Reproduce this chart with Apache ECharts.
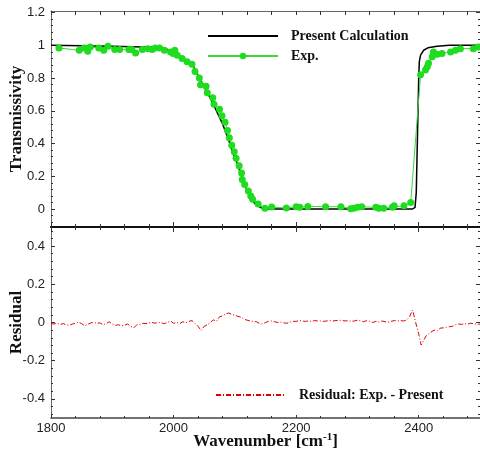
<!DOCTYPE html>
<html><head><meta charset="utf-8">
<script src="https://cdn.jsdelivr.net/npm/echarts@6/dist/echarts.min.js"></script>
<style>html,body{margin:0;padding:0;background:#fff}#c{width:480px;height:453px}</style>
</head><body><div id="c"></div>
<script>
// ---- data ----
const xTickLabels = [1800, 2000, 2200, 2400];
const topYTickLabels = [0, 0.2, 0.4, 0.6, 0.8, 1, 1.2];
const botYTickLabels = [-0.4, -0.2, 0, 0.2, 0.4];

const calcX = [1800,1850,1900,1950,1985,1995,2000,2010,2020,2031,2038,2045,2053,2061,2070,2080,2090,2097,2104,2110,2115,2120,2126,2131,2137,2145,2155,2390,2394,2396,2398,2400,2401,2403,2408,2415,2430,2450,2500];
const calcY = [1.0,0.997,0.995,0.99,0.985,0.965,0.95,0.93,0.905,0.88,0.83,0.78,0.725,0.67,0.6,0.52,0.42,0.34,0.28,0.21,0.16,0.115,0.07,0.04,0.02,0.004,0,0,0.01,0.1,0.45,0.8,0.9,0.94,0.97,0.985,0.995,1.0,1.0];

const expX = [1813,1846,1854,1860,1864,1878,1886,1893,1904,1912,1927,1932,1938,1949,1958,1965,1970,1977,1985,1995,1999,2002,2006,2014,2022,2030,2035,2042,2044,2053,2055,2064,2066,2075,2079,2084,2088,2091,2095,2099,2102,2107,2111,2112,2116,2122,2126,2129,2138,2149,2160,2184,2200,2206,2219,2248,2273,2289,2294,2300,2307,2330,2335,2343,2357,2360,2376,2387,2403,2411,2414,2416,2422,2424,2430,2438,2452,2460,2468,2489,2497];
const expY = [0.984,0.97,0.984,0.964,0.99,0.984,0.97,0.994,0.974,0.974,0.974,0.974,0.954,0.974,0.98,0.974,0.984,0.984,0.97,0.96,0.95,0.97,0.94,0.92,0.9,0.884,0.84,0.8,0.76,0.75,0.71,0.68,0.64,0.61,0.57,0.53,0.48,0.436,0.39,0.35,0.31,0.264,0.22,0.18,0.15,0.11,0.08,0.06,0.03,0.004,0.012,0.006,0.014,0.01,0.016,0.014,0.014,0.002,0.004,0.01,0.014,0.01,0.004,0.004,0.01,0.02,0.02,0.04,0.82,0.85,0.87,0.89,0.93,0.96,0.946,0.95,0.96,0.97,0.98,0.98,0.99];

const resX = [1800,1805,1810,1815,1820,1825,1830,1835,1840,1845,1850,1855,1860,1865,1870,1875,1880,1885,1890,1895,1900,
1905,1910,1915,1920,1925,1930,1935,1940,1945,1950,1955,1960,1965,1970,1975,1980,1985,1990,1995,2000,
2005,2010,2015,2020,2025,2030,2035,2040,2045,2050,2055,2060,2065,2070,2075,2080,2085,2090,2095,2100,
2105,2110,2115,2120,2125,2130,2135,2140,2145,2150,2155,2160,2165,2170,2175,2180,2185,2190,2195,2200,
2205,2210,2215,2220,2225,2230,2235,2240,2245,2250,2255,2260,2265,2270,2275,2280,2285,2290,2295,2300,
2305,2310,2315,2320,2325,2330,2335,2340,2345,2350,2355,2360,2365,2370,2375,2380,2385,2390,
2392,2395,2400,2404,2408,2412,2416,2420,
2425,2430,2435,2440,2445,2450,2455,2460,2465,2470,2475,2480,2485,2490,2495,2500];
const resY = [-0.005,-0.008,-0.004,-0.01,-0.006,-0.012,-0.015,-0.008,-0.004,0.002,-0.006,-0.018,-0.01,-0.002,0,-0.004,-0.002,-0.012,-0.006,0.004,-0.008,
-0.015,-0.012,-0.018,-0.014,-0.008,-0.02,-0.028,-0.012,-0.01,-0.004,-0.006,-0.002,0,-0.004,0.002,-0.002,-0.006,0,0.008,-0.004,
0,-0.006,0.004,-0.002,0.006,0.01,-0.004,-0.02,-0.042,-0.02,-0.012,0,0.014,0.006,0.03,0.035,0.045,0.05,0.042,0.038,
0.032,0.028,0.018,0.012,0.008,0.006,0.004,-0.004,-0.008,0,0.006,0.008,0.004,0,0.002,-0.002,-0.004,0.002,0.006,0.006,
0.01,0.008,0.006,0.008,0.006,0.01,0.008,0.008,0.006,0.008,0.01,0.008,0.01,0.012,0.01,0.008,0.01,0.006,0.008,0.012,
0.008,0.004,0.01,0.006,0,0.006,0.002,0.008,0.004,0.002,0.006,0.01,0.008,0.01,0.008,0.012,0.03,0.065,
0.04,0,-0.06,-0.118,-0.095,-0.07,-0.06,-0.05,
-0.04,-0.045,-0.03,-0.028,-0.025,-0.022,-0.02,-0.012,-0.008,-0.01,-0.006,-0.008,-0.004,-0.006,-0.01,-0.008];

// ---- helpers ----
const zip = (a, b) => a.map((v, i) => [v, b[i]]);
function minorList(min, max, step, majors) {
  const out = [];
  for (let k = Math.ceil(min / step - 1e-9); k * step <= max + 1e-9; k++) {
    const v = Math.round(k * step * 1000) / 1000;
    if (!majors.some(m => Math.abs(m - v) < 1e-6)) out.push(v);
  }
  return out;
}
const X_MIN = 1800, X_MAX = 2500;
const T_MIN = -0.11, T_MAX = 1.21;
const B_MIN = -0.5, B_MAX = 0.5;
const xMinor = minorList(X_MIN, X_MAX, 40, xTickLabels);
const tMinor = minorList(T_MIN, T_MAX, 0.04, topYTickLabels);
const bMinor = minorList(B_MIN, B_MAX, 0.04, botYTickLabels);

const tickFont = {fontFamily: 'Liberation Sans, Arial, sans-serif', fontSize: 13, color: '#222'};
const titleFont = {fontFamily: 'Liberation Serif, Times New Roman, serif', fontWeight: 'bold', fontSize: 17, color: '#111'};
const plain = v => String(v);

function ax(grid, pos, min, max, vals, len, extra) {
  return Object.assign({
    type: 'value', gridIndex: grid, position: pos, min: min, max: max,
    splitLine: {show: false},
    axisLine: {show: false, onZero: false},
    axisTick: {show: true, inside: true, length: len, customValues: vals, lineStyle: {color: '#333', width: 1}},
    axisLabel: {show: false, customValues: vals},
    minorTick: {show: false}
  }, extra || {});
}
const line = (w, c) => ({show: true, onZero: false, lineStyle: {width: w, color: c}});

const xAxes = [
  ax(0, 'bottom', X_MIN, X_MAX, xTickLabels, 5, {axisLine: line(2, '#111')}),
  ax(0, 'bottom', X_MIN, X_MAX, xMinor, 3),
  ax(0, 'top', X_MIN, X_MAX, xTickLabels, 4, {axisLine: line(1, '#666')}),
  ax(0, 'top', X_MIN, X_MAX, xMinor, 4),
  ax(1, 'bottom', X_MIN, X_MAX, xTickLabels, 3, {
    axisLine: line(1.5, '#444'),
    axisLabel: Object.assign({show: true, customValues: xTickLabels, margin: 4, formatter: plain}, tickFont),
    name: 'Wavenumber [cm{sup|-1}]', nameLocation: 'middle', nameGap: 14, nameMoveOverlap: false,
    nameTextStyle: Object.assign({rich: {sup: Object.assign({}, titleFont, {fontSize: 11, verticalAlign: 'top', padding: [0, 0, 8, 0]})}}, titleFont)
  }),
  ax(1, 'bottom', X_MIN, X_MAX, xMinor, 2),
  ax(1, 'top', X_MIN, X_MAX, xTickLabels, 5, {axisLine: line(2, '#111')}),
  ax(1, 'top', X_MIN, X_MAX, xMinor, 3)
];
const yAxes = [
  ax(0, 'left', T_MIN, T_MAX, topYTickLabels, 4, {
    axisLine: line(1, '#666'),
    axisLabel: Object.assign({show: true, customValues: topYTickLabels, margin: 6, formatter: plain}, tickFont),
    name: 'Transmissivity', nameLocation: 'middle', nameGap: 26, nameRotate: 90, nameMoveOverlap: false, nameTextStyle: titleFont
  }),
  ax(0, 'left', T_MIN, T_MAX, tMinor, 2),
  ax(0, 'right', T_MIN, T_MAX, topYTickLabels, 4, {axisLine: line(1, '#bbb')}),
  ax(0, 'right', T_MIN, T_MAX, tMinor, 2),
  ax(1, 'left', B_MIN, B_MAX, botYTickLabels, 4, {
    axisLine: line(1, '#666'),
    axisLabel: Object.assign({show: true, customValues: botYTickLabels, margin: 6, formatter: plain}, tickFont),
    name: 'Residual', nameLocation: 'middle', nameGap: 26, nameRotate: 90, nameMoveOverlap: false, nameTextStyle: titleFont
  }),
  ax(1, 'left', B_MIN, B_MAX, bMinor, 2),
  ax(1, 'right', B_MIN, B_MAX, botYTickLabels, 4, {axisLine: line(1, '#bbb')}),
  ax(1, 'right', B_MIN, B_MAX, bMinor, 2)
];

const legendText = {fontFamily: 'Liberation Serif, Times New Roman, serif', fontWeight: 'bold', fontSize: 14, color: '#111', padding: [0, 0, 0, 8], lineHeight: 14};
const noMark = {opacity: 0};

const option = {
  animation: false,
  backgroundColor: '#fff',
  grid: [
    {left: 51, top: 11, width: 429, height: 216, outerBoundsMode: 'none'},
    {left: 51, top: 227, width: 429, height: 191, outerBoundsMode: 'none'}
  ],
  xAxis: xAxes,
  yAxis: yAxes,
  legend: [
    {data: [{name: 'Present Calculation', itemStyle: noMark}, {name: 'Exp.'}], orient: 'vertical', left: 207, top: 29, padding: 0,
     itemWidth: 70, itemHeight: 8, itemGap: 6, textStyle: legendText, selectedMode: false},
    {data: [{name: 'Residual: Exp. - Present', itemStyle: noMark}], orient: 'vertical', left: 215, top: 388, padding: 0,
     itemWidth: 70, itemHeight: 8, textStyle: legendText, selectedMode: false}
  ],
  series: [
    {name: 'Present Calculation', type: 'line', xAxisIndex: 0, yAxisIndex: 0, data: zip(calcX, calcY),
     symbol: 'none', color: '#000', lineStyle: {width: 1.5, color: '#000'}, z: 3},
    {name: 'Exp.', type: 'line', xAxisIndex: 0, yAxisIndex: 0, data: zip(expX, expY),
     symbol: 'circle', symbolSize: 7, showSymbol: true, color: '#1edc1e',
     lineStyle: {width: 1, color: '#3ad83a'}, itemStyle: {color: '#1edc1e'}, z: 4},
    {name: 'Residual: Exp. - Present', type: 'line', xAxisIndex: 4, yAxisIndex: 4, data: zip(resX, resY),
     symbol: 'none', color: '#e00000', lineStyle: {width: 1, color: '#e00000', type: [5, 2, 1, 2]}, z: 3}
  ]
};
const chart = echarts.init(document.getElementById('c'), null, {renderer: 'canvas'});
chart.setOption(option);
</script>
</body></html>
